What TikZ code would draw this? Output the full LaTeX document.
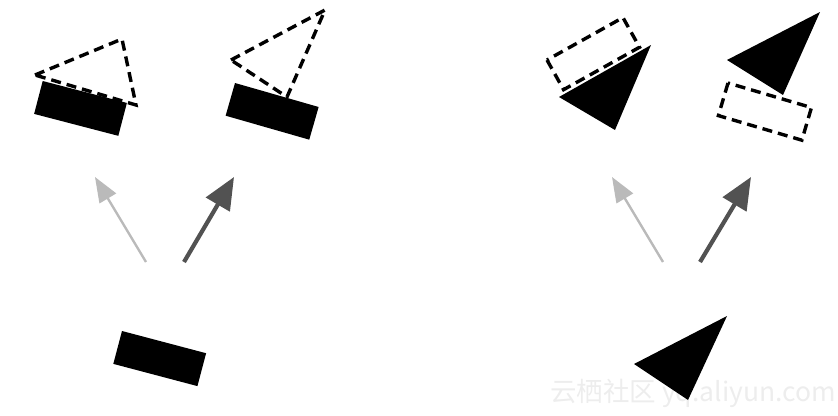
\documentclass[tikz,border=0pt]{standalone}
\usepackage{fontspec}
\newfontfamily\cjk{Noto Sans CJK SC}
\usetikzlibrary{arrows.meta}

\begin{document}
\begin{tikzpicture}[x=1pt,y=-1pt,
  ghost/.style={draw=black,line width=3.4pt,dash pattern=on 10pt off 6pt},
  solidpart/.style={fill=black},
  lightmove/.style={draw=black!27,line width=2.4pt,-{Triangle[length=25pt,width=19pt]}},
  darkmove/.style={draw=black!68,line width=4.2pt,-{Triangle[length=32pt,width=27pt]}}]

\useasboundingbox (0,0) rectangle (838,415);

% watermark
\node[anchor=base west,text=black!7,font=\cjk\fontsize{26.5}{26.5}\selectfont,inner sep=0pt] (mark) at (550,401) {云栖社区 yq.aliyun.com};

% left: rectangle
\fill[solidpart,rotate around={-14.6:(42.7,81)}] (42.7,81) rectangle ++(87,34);
\draw[ghost] (35,75)--(122,39)--(136,105)--cycle;

\fill[solidpart,rotate around={-16:(235,83)}] (235,83) rectangle ++(87,34);
\draw[ghost] (231,60)--(325,10)--(287,97)--cycle;

\coordinate (lsrcA) at (146,262);
\coordinate (ldstA) at (95,177);
\coordinate (lsrcB) at (184,262);
\coordinate (ldstB) at (234,177);
\draw[lightmove] (lsrcA)--(ldstA);
\draw[darkmove] (lsrcB)--(ldstB);

\fill[solidpart,rotate around={-14.8:(122,331)}] (122,331) rectangle ++(87,34);

% right: triangle
\draw[ghost,rotate around={29.2:(547,60)}] (547,60) rectangle ++(87,34);
\fill[solidpart] (559,97)--(651,45)--(615,130)--cycle;

\fill[solidpart] (727,60)--(820,12)--(783,95)--cycle;
\draw[ghost,rotate around={-16.4:(728,83)}] (728,83) rectangle ++(87,34);

\coordinate (rsrcA) at (663,262);
\coordinate (rdstA) at (612,177);
\coordinate (rsrcB) at (700,262);
\coordinate (rdstB) at (751,177);
\draw[lightmove] (rsrcA)--(rdstA);
\draw[darkmove] (rsrcB)--(rdstB);

\fill[solidpart] (634,364)--(727,316)--(688,400)--cycle;

\end{tikzpicture}
\end{document}
